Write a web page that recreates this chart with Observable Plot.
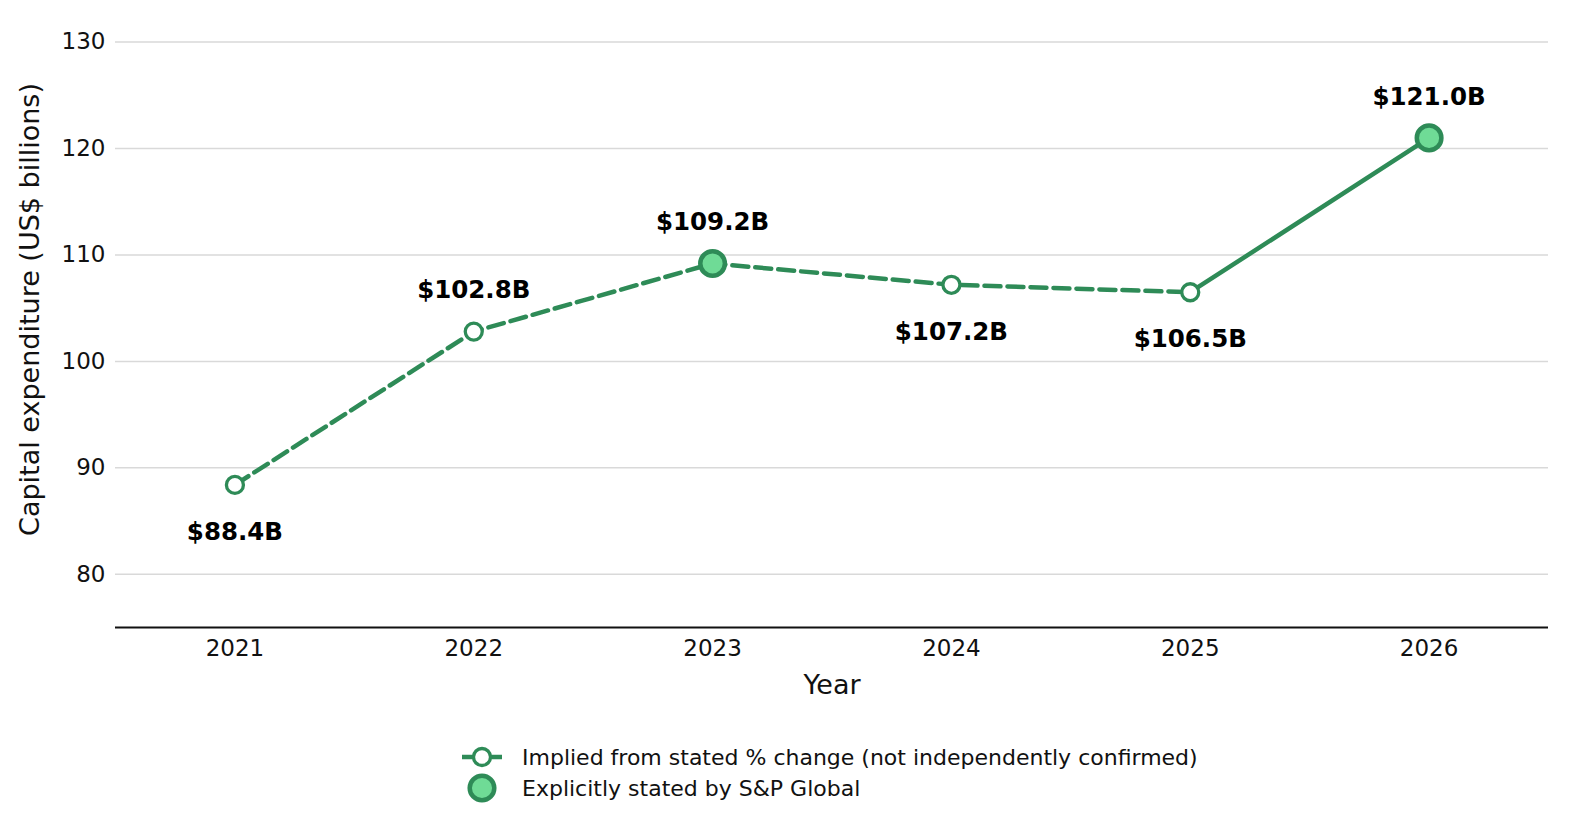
<!DOCTYPE html>
<html>
<head>
<meta charset="utf-8">
<script src="https://cdn.jsdelivr.net/npm/d3@7"></script>
<script src="https://cdn.jsdelivr.net/npm/@observablehq/plot@0.6"></script>
<style>
  html, body { margin: 0; padding: 0; background: #fff; font-family: "DejaVu Sans", sans-serif; overflow: hidden; width: 1579px; height: 833px; }
  #chart svg { display: block; max-width: none !important; width: 1579px !important; height: 710px !important; }
  #legend { position: relative; height: 123px; }
  .lg-row { position: absolute; left: 460px; display: flex; align-items: center; font-size: 22px; color: #111; height: 30px; white-space: nowrap; }
  .lg-row svg { margin-right: 18px; display: block; }
</style>
</head>
<body>
<div id="chart"></div>
<div id="legend"></div>
<script>
const years = [2021, 2022, 2023, 2024, 2025, 2026];
const values = [88.4, 102.8, 109.2, 107.2, 106.5, 121.0];
const explicitlyStated = [false, false, true, false, false, true];
const labelSide = ["below", "above", "above", "below", "below", "above"];
const labels = ["$88.4B", "$102.8B", "$109.2B", "$107.2B", "$106.5B", "$121.0B"];
const yTicks = [80, 90, 100, 110, 120, 130];
const yTitle = "Capital expenditure (US$ billions)";
const xTitle = "Year";

const green = "#2e8b57";
const lightGreen = "#6fdb96";

const data = years.map((y, i) => ({year: y, value: values[i], stated: explicitlyStated[i], side: labelSide[i], label: labels[i]}));
const dashedPart = data.slice(0, 5);
const solidPart = data.slice(4);

const chart = Plot.plot({
  width: 1579,
  height: 710,
  marginLeft: 115,
  marginRight: 31,
  marginTop: 15,
  marginBottom: 83,
  style: {fontFamily: "DejaVu Sans, sans-serif", fontSize: "23px", color: "#111", overflow: "visible", maxWidth: "none"},
  x: {domain: [2020.5, 2026.5], label: null},
  y: {domain: [75, 132.5], label: null},
  marks: [
    Plot.gridY(yTicks, {stroke: "#d9d9d9", strokeOpacity: 1, strokeWidth: 1.5}),
    Plot.axisY(yTicks, {tickSize: 0, tickPadding: 10, fontSize: 23, label: null}),
    Plot.axisX(years, {tickSize: 0, tickPadding: 12, fontSize: 23, tickFormat: d => String(d), label: null}),
    Plot.text([yTitle], {frameAnchor: "left", rotate: -90, textAnchor: "middle", lineAnchor: "middle", dx: -85, dy: -12, fontSize: 27, fill: "#111"}),
    Plot.text([xTitle], {frameAnchor: "bottom", textAnchor: "middle", lineAnchor: "middle", dy: 58, fontSize: 27, fill: "#111"}),
    Plot.ruleY([75], {stroke: "#111", strokeWidth: 1.8}),
    Plot.line(dashedPart, {x: "year", y: "value", stroke: green, strokeWidth: 4.5, strokeDasharray: "16,7"}),
    Plot.line(solidPart, {x: "year", y: "value", stroke: green, strokeWidth: 4.5}),
    Plot.dot(data.filter(d => !d.stated), {x: "year", y: "value", r: 8.5, fill: "white", stroke: green, strokeWidth: 3.3}),
    Plot.dot(data.filter(d => d.stated), {x: "year", y: "value", r: 12.3, fill: lightGreen, stroke: green, strokeWidth: 4.5}),
    Plot.text(data.filter(d => d.side === "above"), {x: "year", y: "value", text: "label", dy: -41, fontWeight: "bold", fontSize: 24.5, fill: "#000"}),
    Plot.text(data.filter(d => d.side === "below"), {x: "year", y: "value", text: "label", dy: 47, fontWeight: "bold", fontSize: 24.5, fill: "#000"})
  ]
});
document.getElementById("chart").appendChild(chart);

const legend = document.getElementById("legend");
legend.innerHTML = `
  <div class="lg-row" style="top:32px;">
    <svg width="44" height="30" viewBox="0 0 44 30">
      <line x1="2" y1="15" x2="42" y2="15" stroke="${green}" stroke-width="4.5"/>
      <circle cx="22" cy="15" r="8.5" fill="white" stroke="${green}" stroke-width="3.3"/>
    </svg>Implied from stated % change (not independently confirmed)</div>
  <div class="lg-row" style="top:63px;">
    <svg width="44" height="30" viewBox="0 0 44 30">
      <circle cx="22" cy="15" r="12.3" fill="${lightGreen}" stroke="${green}" stroke-width="4.5"/>
    </svg>Explicitly stated by S&amp;P Global</div>
`;
</script>
</body>
</html>
